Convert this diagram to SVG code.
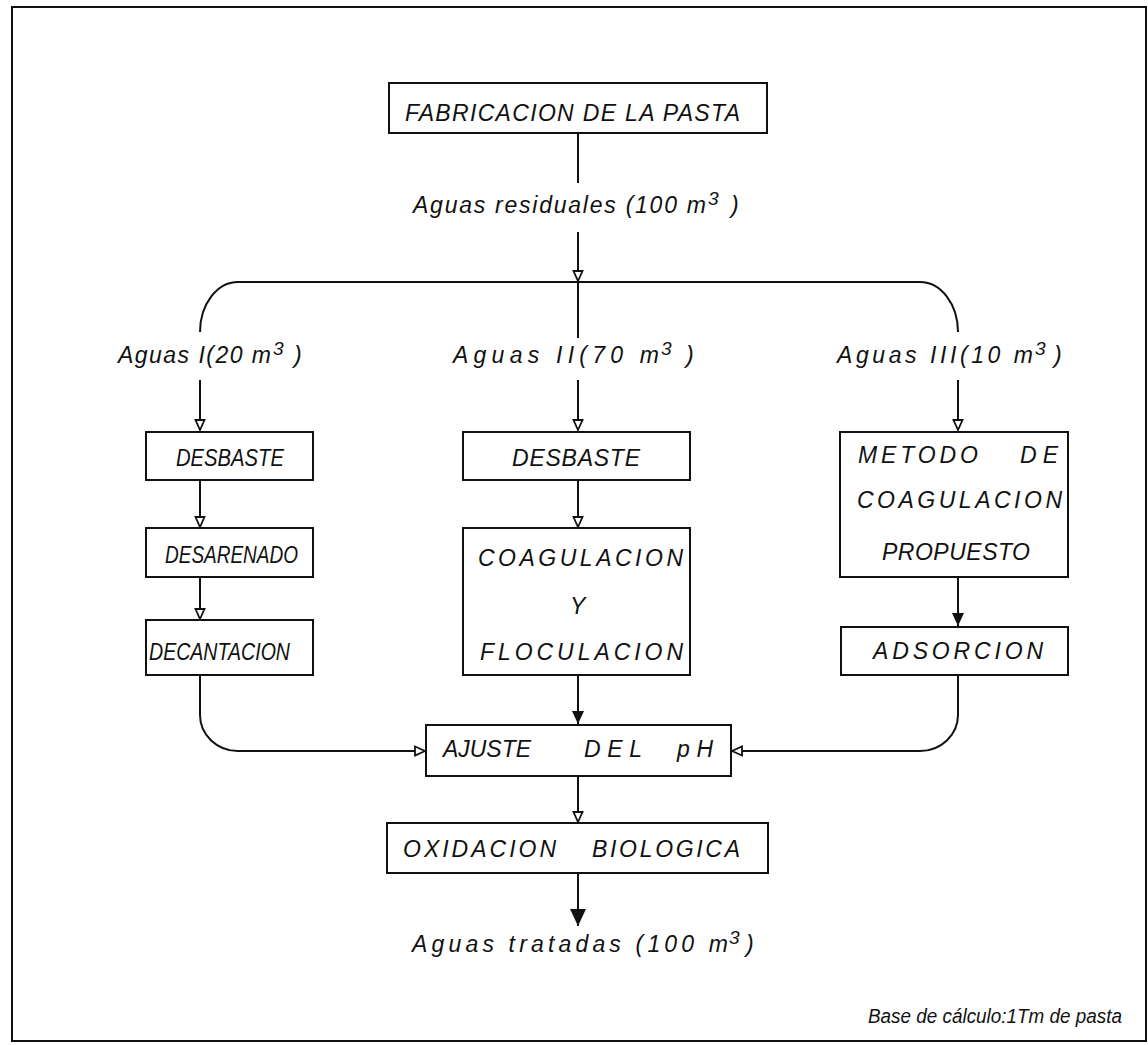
<svg xmlns="http://www.w3.org/2000/svg" width="1148" height="1045" viewBox="0 0 1148 1045">
<style>
text{font-family:"Liberation Sans",Arial,sans-serif;font-style:italic;font-size:23px;fill:#111}
.box{fill:none;stroke:#111;stroke-width:2}
.ln{fill:none;stroke:#111;stroke-width:2}
.sup{font-size:19px}
.cond{font-size:23px}
.small{font-size:20px}
</style>
<defs>
<marker id="open" markerUnits="userSpaceOnUse" markerWidth="12" markerHeight="12" refX="11" refY="6" orient="auto">
<path d="M1,1.5 L11,6 L1,10.5 z" fill="#fff" stroke="#111" stroke-width="1.8"/>
</marker>
<marker id="fill" markerUnits="userSpaceOnUse" markerWidth="14" markerHeight="14" refX="13" refY="7" orient="auto">
<path d="M0,1 L13,7 L0,13 z" fill="#111"/>
</marker>
<marker id="fillbig" markerUnits="userSpaceOnUse" markerWidth="18" markerHeight="18" refX="17" refY="9" orient="auto">
<path d="M0,1 L17,9 L0,17 z" fill="#111"/>
</marker>
</defs>
<rect x="12" y="7" width="1134" height="1034" fill="#fff" stroke="#111" stroke-width="2"/>

<g id="connectors">
<path class="ln" d="M578,133 V183"/>
<path class="ln" d="M578,232 V281" marker-end="url(#open)"/>
<path class="ln" d="M200,332 A38,50 0 0 1 238,282 H920 A38,50 0 0 1 958,332"/>
<path class="ln" d="M578,282 V338"/>
<path class="ln" d="M200,380 V430" marker-end="url(#open)"/>
<path class="ln" d="M578,380 V430" marker-end="url(#open)"/>
<path class="ln" d="M958,380 V430" marker-end="url(#open)"/>
<path class="ln" d="M200,480 V527" marker-end="url(#open)"/>
<path class="ln" d="M200,577 V619" marker-end="url(#open)"/>
<path class="ln" d="M578,480 V527" marker-end="url(#open)"/>
<path class="ln" d="M958,577 V626" marker-end="url(#fill)"/>
<path class="ln" d="M578,675 V724" marker-end="url(#fill)"/>
<path class="ln" d="M200,675 V715 A38,36 0 0 0 238,751 H425" marker-end="url(#open)"/>
<path class="ln" d="M958,675 V715 A38,36 0 0 1 920,751 H732" marker-end="url(#open)"/>
<path class="ln" d="M578,776 V822" marker-end="url(#open)"/>
<path class="ln" d="M578,873 V926" marker-end="url(#fillbig)"/>
</g>

<g id="n-fabricacion">
<rect class="box" x="389" y="83" width="378" height="50"/>
<text x="405" y="121" font-size="24" textLength="335" lengthAdjust="spacing">FABRICACION DE LA PASTA</text>
</g>

<g id="l-residuales">
<text><tspan x="413" y="213" textLength="293" lengthAdjust="spacing">Aguas  residuales (100 m</tspan><tspan class="sup" x="708" y="205">3</tspan><tspan x="731" y="213">)</tspan></text>
</g>

<g id="l-aguas1">
<text><tspan x="118" y="363" textLength="153" lengthAdjust="spacing">Aguas I(20 m</tspan><tspan class="sup" x="273" y="355">3</tspan><tspan x="294" y="363">)</tspan></text>
</g>
<g id="l-aguas2">
<text><tspan x="453" y="363" textLength="206" lengthAdjust="spacing">Aguas II(70 m</tspan><tspan class="sup" x="661" y="355">3</tspan><tspan x="686" y="363">)</tspan></text>
</g>
<g id="l-aguas3">
<text><tspan x="837" y="363" textLength="196" lengthAdjust="spacing">Aguas III(10 m</tspan><tspan class="sup" x="1035" y="355">3</tspan><tspan x="1054" y="363">)</tspan></text>
</g>

<g id="n-desbaste1">
<rect class="box" x="146" y="432" width="167" height="48"/>
<text class="cond" x="176" y="466" textLength="108" lengthAdjust="spacingAndGlyphs">DESBASTE</text>
</g>
<g id="n-desarenado">
<rect class="box" x="146" y="528" width="167" height="49"/>
<text class="cond" x="165" y="563" textLength="133" lengthAdjust="spacingAndGlyphs">DESARENADO</text>
</g>
<g id="n-decantacion">
<rect class="box" x="146" y="620" width="167" height="55"/>
<text class="cond" x="149" y="660" textLength="141" lengthAdjust="spacingAndGlyphs">DECANTACION</text>
</g>

<g id="n-desbaste2">
<rect class="box" x="463" y="432" width="227" height="48"/>
<text x="512" y="466" textLength="128" lengthAdjust="spacing">DESBASTE</text>
</g>
<g id="n-coagulacion">
<rect class="box" x="463" y="528" width="227" height="147"/>
<text x="478" y="566" textLength="205" lengthAdjust="spacing">COAGULACION</text>
<text x="570" y="614">Y</text>
<text x="480" y="660" textLength="203" lengthAdjust="spacing">FLOCULACION</text>
</g>

<g id="n-metodo">
<rect class="box" x="840" y="432" width="228" height="145"/>
<text x="858" y="463" textLength="120" lengthAdjust="spacing">METODO</text>
<text x="1020" y="463" textLength="38" lengthAdjust="spacing">DE</text>
<text x="857" y="508" textLength="205" lengthAdjust="spacing">COAGULACION</text>
<text x="882" y="560" textLength="148" lengthAdjust="spacing">PROPUESTO</text>
</g>
<g id="n-adsorcion">
<rect class="box" x="841" y="627" width="227" height="48"/>
<text x="873" y="659" textLength="170" lengthAdjust="spacing">ADSORCION</text>
</g>

<g id="n-ajuste">
<rect class="box" x="426" y="725" width="305" height="51"/>
<text x="443" y="757" textLength="88" lengthAdjust="spacing">AJUSTE</text>
<text x="584" y="757" textLength="58" lengthAdjust="spacing">DEL</text>
<text x="677" y="757" textLength="36" lengthAdjust="spacing">pH</text>
</g>

<g id="n-oxidacion">
<rect class="box" x="387" y="823" width="381" height="50"/>
<text x="403" y="857" textLength="153" lengthAdjust="spacing">OXIDACION</text>
<text x="592" y="857" textLength="148" lengthAdjust="spacing">BIOLOGICA</text>
</g>

<g id="l-tratadas">
<text><tspan x="412" y="952" textLength="316" lengthAdjust="spacing">Aguas tratadas (100 m</tspan><tspan class="sup" x="729" y="944">3</tspan><tspan x="746" y="952">)</tspan></text>
</g>

<g id="l-base">
<text class="small" x="868" y="1023" textLength="254" lengthAdjust="spacingAndGlyphs">Base de cálculo:1Tm de  pasta</text>
</g>
</svg>
